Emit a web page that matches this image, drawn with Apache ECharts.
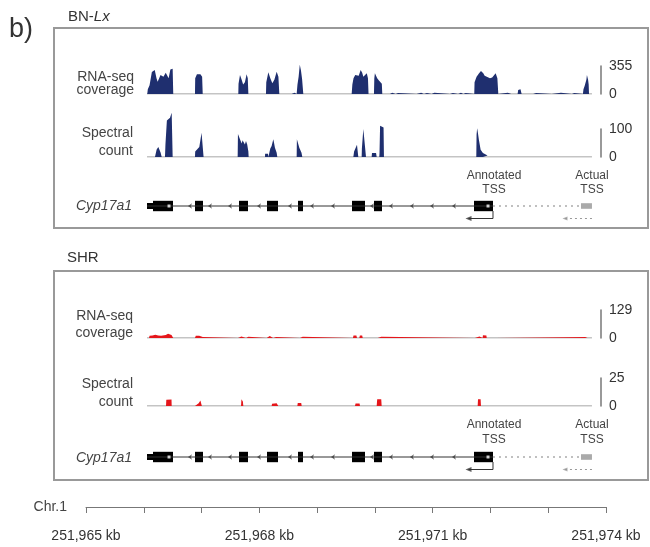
<!DOCTYPE html>
<html>
<head>
<meta charset="utf-8">
<style>
  html, body { margin: 0; padding: 0; background: #fff; }
  #chart { width: 650px; height: 547px; }
</style>
<script src="https://cdn.jsdelivr.net/npm/echarts/dist/echarts.min.js"></script>
</head>
<body>
<div id="chart"></div>
<script>
// x positions are kb from 251,965 kb (chr.1)
const tickLabels = ['251,965 kb', '', '', '251,968 kb', '', '', '251,971 kb', '', '', '251,974 kb'];

// coverage / spectral peaks, [kb, value]
const bnCoverage = [
  [[1.06,0],[1.07,60],[1.10,110],[1.14,280],[1.19,305],[1.22,200],[1.24,155],[1.27,160],[1.29,240],[1.34,220],[1.38,270],[1.40,285],[1.43,200],[1.46,310],[1.48,330],[1.50,320],[1.51,0]],
  [[1.886,0],[1.89,200],[1.92,250],[1.98,250],[2.01,220],[2.02,0]],
  [[2.636,0],[2.64,130],[2.665,240],[2.69,190],[2.72,120],[2.75,150],[2.78,250],[2.80,200],[2.81,0]],
  [[3.115,0],[3.12,150],[3.156,275],[3.19,200],[3.225,135],[3.26,180],[3.30,283],[3.33,220],[3.346,0]],
  [[3.56,0],[3.57,15],[3.61,15],[3.617,0]],
  [[3.646,0],[3.66,120],[3.68,220],[3.70,370],[3.72,300],[3.74,190],[3.761,0]],
  [[4.37,0],[4.38,18],[4.40,18],[4.41,0]],
  [[4.50,0],[4.51,18],[4.53,18],[4.54,0]],
  [[4.598,0],[4.61,120],[4.63,200],[4.66,240],[4.684,262],[4.72,230],[4.754,304],[4.78,270],[4.80,220],[4.83,240],[4.86,262],[4.88,200],[4.89,0]],
  [[4.984,0],[4.99,200],[5.00,262],[5.02,230],[5.04,200],[5.07,170],[5.10,150],[5.12,130],[5.128,0]],
  [[5.26,0],[5.27,16],[5.30,16],[5.31,0]],
  [[5.36,0],[5.37,14],[5.40,14],[5.41,0]],
  [[5.72,0],[5.73,16],[5.80,16],[5.81,0]],
  [[5.85,0],[5.86,14],[5.90,14],[5.91,0]],
  [[5.98,0],[5.99,16],[6.03,16],[6.04,0]],
  [[6.30,0],[6.31,14],[6.35,14],[6.36,0]],
  [[6.44,0],[6.45,16],[6.49,16],[6.50,0]],
  [[6.53,0],[6.54,14],[6.57,14],[6.58,0]],
  [[6.72,0],[6.725,150],[6.76,220],[6.80,260],[6.836,292],[6.876,262],[6.90,230],[6.934,212],[6.992,200],[7.03,210],[7.05,225],[7.09,262],[7.12,200],[7.136,0]],
  [[7.15,0],[7.16,20],[7.30,16],[7.36,0]],
  [[7.47,0],[7.48,50],[7.50,72],[7.52,60],[7.54,0]],
  [[7.74,0],[7.75,14],[7.79,14],[7.80,0]],
  [[8.06,0],[8.07,16],[8.22,16],[8.23,0]],
  [[8.41,0],[8.42,14],[8.45,14],[8.46,0]],
  [[8.60,0],[8.61,60],[8.63,100],[8.66,180],[8.67,240],[8.69,180],[8.70,120],[8.706,0]]
];

const bnSpectral = [
  [[1.194,0],[1.21,15],[1.223,27],[1.252,36],[1.27,30],[1.292,15],[1.31,0]],
  [[1.367,0],[1.375,45],[1.395,45],[1.40,130],[1.43,135],[1.454,140],[1.47,150],[1.483,158],[1.495,155],[1.50,0]],
  [[1.886,0],[1.89,20],[1.904,27],[1.961,36],[1.99,40],[2.00,87],[2.025,87],[2.035,0]],
  [[2.625,0],[2.63,82],[2.645,80],[2.665,63],[2.694,48],[2.71,60],[2.734,63],[2.75,45],[2.769,57],[2.79,45],[2.81,20],[2.815,0]],
  [[3.098,0],[3.10,12],[3.15,12],[3.156,0]],
  [[3.185,0],[3.19,30],[3.213,39],[3.242,63],[3.255,50],[3.27,33],[3.30,15],[3.311,0]],
  [[3.646,0],[3.65,63],[3.665,60],[3.692,33],[3.73,15],[3.744,0]],
  [[4.627,0],[4.64,20],[4.66,26],[4.69,44],[4.70,40],[4.713,0]],
  [[4.771,0],[4.775,30],[4.79,32],[4.80,100],[4.83,95],[4.846,0]],
  [[4.944,0],[4.95,14],[5.02,14],[5.031,0]],
  [[5.076,0],[5.08,14],[5.09,112],[5.12,108],[5.15,105],[5.157,0]],
  [[6.755,0],[6.76,80],[6.77,103],[6.78,90],[6.80,62],[6.83,26],[6.87,14],[6.95,5],[6.96,0]]
];

const shrCoverage = [
  [[1.09,0],[1.10,10],[1.15,12],[1.20,15],[1.25,12],[1.30,10],[1.38,14],[1.42,20],[1.45,18],[1.48,14],[1.50,8],[1.51,0]],
  [[1.886,0],[1.90,10],[1.926,16],[1.96,10],[2.02,5],[2.025,0]],
  [[2.63,0],[2.64,7],[2.69,7],[2.70,0]],
  [[2.77,0],[2.78,6],[2.81,6],[2.82,0]],
  [[3.127,0],[3.13,9],[3.18,9],[3.185,0]],
  [[3.24,0],[3.25,5],[3.29,5],[3.30,0]],
  [[3.704,0],[3.71,6],[3.75,6],[3.76,0]],
  [[4.62,0],[4.63,12],[4.68,12],[4.69,0]],
  [[4.73,0],[4.74,12],[4.78,12],[4.79,0]],
  [[5.05,0],[5.06,6],[5.11,6],[5.12,0]],
  [[6.73,0],[6.74,7],[6.81,7],[6.82,0]],
  [[6.865,0],[6.87,13],[6.90,16],[6.93,12],[6.935,0]],
  [[7.07,0],[7.075,3],[7.09,3],[7.095,0]],
  [[8.64,0],[8.65,5],[8.68,5],[8.69,0]]
];

const shrSpectral = [
  [[1.385,0],[1.39,5.5],[1.48,5.8],[1.483,0]],
  [[1.886,0],[1.90,1.5],[1.95,2.5],[1.98,5],[2.00,5],[2.005,0]],
  [[2.683,0],[2.69,6],[2.715,4],[2.723,0]],
  [[3.213,0],[3.22,2],[3.25,2.8],[3.30,2.5],[3.328,0]],
  [[3.658,0],[3.665,2.7],[3.725,2.7],[3.733,0]],
  [[4.656,0],[4.665,2.3],[4.735,2.3],[4.742,0]],
  [[5.031,0],[5.04,6],[5.11,6],[5.117,0]],
  [[6.779,0],[6.785,6],[6.83,6],[6.836,0]]
];

const bnCoverageMax = 355, bnSpectralMax = 100;
const shrCoverageMax = 129, shrSpectralMax = 25;

// Cyp17a1 gene model
const trackSpan = [1.056, 8.757];
const intronSpan = [1.056, 7.044];
const extensionSpan = [7.044, 8.567];
const utrExons = [[1.056, 1.160]];
const codingExons = [[1.160, 1.506], [1.886, 2.025], [2.648, 2.804], [3.133, 3.323], [3.669, 3.756],
  [4.604, 4.829], [4.985, 5.123], [6.715, 7.044]];
const actualTssExon = [[8.567, 8.757]];
const exonDots = [1.437, 6.958];
const intronMarks = [1.765, 2.111, 2.458, 2.960, 3.496, 3.877, 4.240, 4.915, 5.244, 5.607, 5.954, 6.334];
const annotatedArrow = [[7.044, -0.5], [7.044, -1.25], [6.62, -1.25]];
const actualArrow = [[8.757, -1.25], [8.29, -1.25]];

const NAVY = '#1f2f6f';
const RED = '#e5161b';
const FONT = '"Liberation Sans", Arial, sans-serif';

const chart = echarts.init(document.getElementById('chart'));

const panels = [
  { color: NAVY, coverage: bnCoverage, spectral: bnSpectral, covMax: bnCoverageMax, specMax: bnSpectralMax, covTop: 66, specTop: 129, geneTop: 191 },
  { color: RED, coverage: shrCoverage, spectral: shrSpectral, covMax: shrCoverageMax, specMax: shrSpectralMax, covTop: 310, specTop: 378, geneTop: 442 }
];

const grid = [], xAxis = [], yAxis = [], series = [];

const addGrid = (top, height, y) => {
  grid.push({ left: 86, right: 44, top: top, height: height });
  const i = grid.length - 1;
  xAxis.push({ type: 'value', gridIndex: i, min: 0, max: 9, show: false });
  yAxis.push(Object.assign({ type: 'value', gridIndex: i }, y));
  return i;
};

const scaleAxis = (max) => ({
  min: 0, max: max, interval: max, position: 'right', offset: -5,
  axisLine: { show: true, onZero: false, lineStyle: { color: '#777', width: 1.5 } },
  axisTick: { show: false },
  splitLine: { show: false },
  axisLabel: { color: '#333', fontSize: 14, fontFamily: FONT, margin: 8 }
});

const exonRender = (params, api) => {
  const a = api.coord([api.value(0), api.value(2)]);
  const b = api.coord([api.value(1), -api.value(2)]);
  return { type: 'rect', shape: { x: a[0], y: a[1], width: b[0] - a[0], height: b[1] - a[1] }, style: { fill: api.visual('color') } };
};

const flat = peaks => peaks.flat();

panels.forEach(p => {
  [[p.covTop, p.coverage, p.covMax], [p.specTop, p.spectral, p.specMax]].forEach(([top, peaks, max]) => {
    const gi = addGrid(top, 28, scaleAxis(max));
    series.push({
      type: 'line', xAxisIndex: gi, yAxisIndex: gi, symbol: 'none', silent: true,
      data: [[trackSpan[0], 0], [trackSpan[1], 0]],
      lineStyle: { color: '#8a8a8a', width: 1.2 }, z: 1
    });
    series.push({
      type: 'line', xAxisIndex: gi, yAxisIndex: gi, symbol: 'none', clip: false,
      data: flat(peaks),
      lineStyle: { width: 0 },
      areaStyle: { color: p.color, opacity: 1 }, z: 2
    });
  });

  const gi = addGrid(p.geneTop, 30, { min: -1.5, max: 1.5, show: false });
  const on = { xAxisIndex: gi, yAxisIndex: gi };
  series.push(Object.assign({
    type: 'line', symbol: 'none', data: intronSpan.map(x => [x, 0]),
    lineStyle: { color: '#333', width: 1 }
  }, on));
  series.push(Object.assign({
    type: 'line', symbol: 'none', data: extensionSpan.map(x => [x, 0]),
    lineStyle: { color: '#aaa', width: 1.5, type: [2, 4] }
  }, on));
  series.push(Object.assign({
    type: 'scatter', symbol: 'arrow', symbolRotate: 90, symbolSize: [4, 4],
    data: intronMarks.map(x => [x, 0]), itemStyle: { color: '#444' }
  }, on));
  series.push(Object.assign({
    type: 'custom', renderItem: exonRender, encode: { x: [0, 1], y: 2 },
    data: utrExons.map(e => [e[0], e[1], 0.3]).concat(codingExons.map(e => [e[0], e[1], 0.52])),
    itemStyle: { color: '#000' }, z: 3
  }, on));
  series.push(Object.assign({
    type: 'custom', renderItem: exonRender, encode: { x: [0, 1], y: 2 },
    data: actualTssExon.map(e => [e[0], e[1], 0.28]),
    itemStyle: { color: '#aaa' }, z: 3
  }, on));
  series.push(Object.assign({
    type: 'scatter', symbol: 'rect', symbolSize: 3,
    data: exonDots.map(x => [x, 0]), itemStyle: { color: '#fff' }, z: 4
  }, on));
  // TSS arrows: shaft as a line, head as a triangle marker at the tip
  series.push(Object.assign({
    type: 'line', symbol: 'none', data: annotatedArrow,
    lineStyle: { color: '#333', width: 1 }
  }, on));
  series.push(Object.assign({
    type: 'line', symbol: 'none', data: actualArrow,
    lineStyle: { color: '#999', width: 1, type: [2, 3] }
  }, on));
  series.push(Object.assign({
    type: 'scatter', symbol: 'triangle', symbolRotate: 90, symbolSize: [5, 6],
    data: [annotatedArrow[2]], itemStyle: { color: '#333' }
  }, on));
  series.push(Object.assign({
    type: 'scatter', symbol: 'triangle', symbolRotate: 90, symbolSize: [4, 5],
    data: [actualArrow[1]], itemStyle: { color: '#999' }
  }, on));
});

// chromosome axis
grid.push({ left: 86, right: 44, top: 506, height: 1 });
xAxis.push({
  type: 'value', gridIndex: grid.length - 1, min: 0, max: 9, interval: 1,
  axisLine: { lineStyle: { color: '#777', width: 1 } },
  axisTick: { show: true, length: 6, lineStyle: { color: '#777' } },
  splitLine: { show: false },
  axisLabel: { color: '#333', fontSize: 14, fontFamily: FONT, margin: 22, formatter: v => tickLabels[Math.round(v)] }
});
yAxis.push({ type: 'value', gridIndex: grid.length - 1, show: false });
series.push({ type: 'line', xAxisIndex: grid.length - 1, yAxisIndex: grid.length - 1, data: [] });

const txt = (text, x, y, opts) => ({
  type: 'text', x: x, y: y, silent: true,
  style: Object.assign({
    text: text, fill: '#444', font: '14px ' + FONT,
    textAlign: 'right', textVerticalAlign: 'middle', verticalAlign: 'middle'
  }, opts || {})
});

const graphic = [
  { type: 'rect', shape: { x: 54, y: 28, width: 594, height: 200 }, style: { fill: 'none', stroke: '#999', lineWidth: 2 } },
  { type: 'rect', shape: { x: 54, y: 271, width: 594, height: 209 }, style: { fill: 'none', stroke: '#999', lineWidth: 2 } },
  txt('b)', 9, 30, { textAlign: 'left', fill: '#333', font: '27px ' + FONT }),
  {
    type: 'text', x: 68, y: 17, silent: true,
    style: {
      text: 'BN-{i|Lx}', fill: '#333', font: '15px ' + FONT, textAlign: 'left', textVerticalAlign: 'middle', verticalAlign: 'middle',
      rich: { i: { fontStyle: 'italic', fontSize: 15, fontFamily: FONT, fill: '#333' } }
    }
  },
  txt('SHR', 67, 258, { textAlign: 'left', fill: '#333', font: '15px ' + FONT }),
  txt('RNA-seq', 134, 77), txt('coverage', 134, 90),
  txt('Spectral', 133, 133), txt('count', 133, 151),
  txt('Cyp17a1', 132, 206, { font: 'italic 14px ' + FONT }),
  txt('RNA-seq', 133, 316), txt('coverage', 133, 333),
  txt('Spectral', 133, 384), txt('count', 133, 402),
  txt('Cyp17a1', 132, 458, { font: 'italic 14px ' + FONT }),
  txt('Annotated', 494, 176, { textAlign: 'center', font: '12px ' + FONT }),
  txt('TSS', 494, 190, { textAlign: 'center', font: '12px ' + FONT }),
  txt('Actual', 592, 176, { textAlign: 'center', font: '12px ' + FONT }),
  txt('TSS', 592, 190, { textAlign: 'center', font: '12px ' + FONT }),
  txt('Annotated', 494, 425, { textAlign: 'center', font: '12px ' + FONT }),
  txt('TSS', 494, 440, { textAlign: 'center', font: '12px ' + FONT }),
  txt('Actual', 592, 425, { textAlign: 'center', font: '12px ' + FONT }),
  txt('TSS', 592, 440, { textAlign: 'center', font: '12px ' + FONT }),
  txt('Chr.1', 67, 507)
];

chart.setOption({
  animation: false,
  grid: grid,
  xAxis: xAxis,
  yAxis: yAxis,
  series: series,
  graphic: graphic
});
</script>
</body>
</html>
